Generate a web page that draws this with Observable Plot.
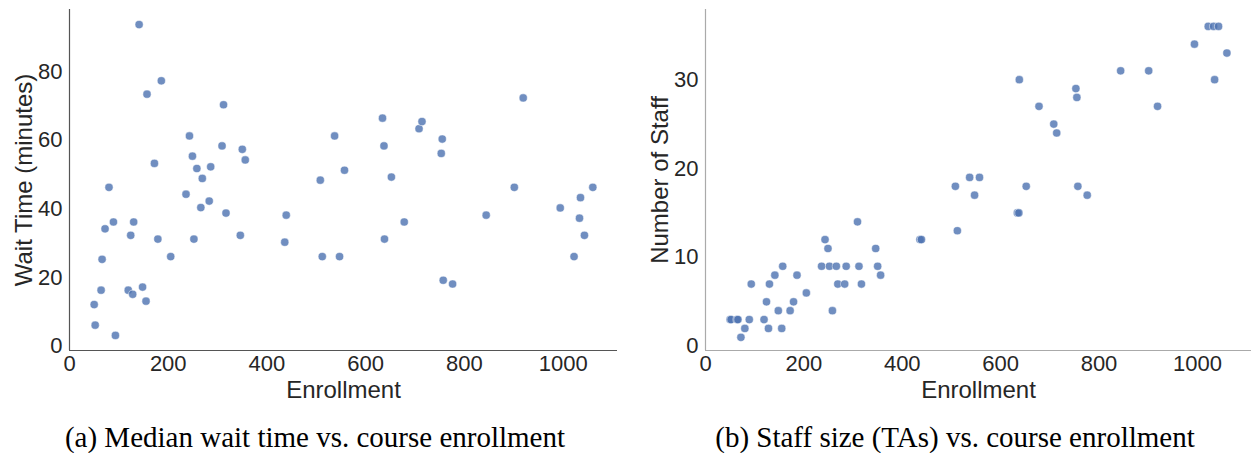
<!DOCTYPE html>
<html>
<head>
<meta charset="utf-8">
<script src="https://cdn.jsdelivr.net/npm/d3@7"></script>
<script src="https://cdn.jsdelivr.net/npm/@observablehq/plot@0.6"></script>
<style>
  html, body { margin: 0; padding: 0; background: #fff; }
  #wrap { position: relative; width: 1252px; height: 453px; overflow: hidden; }
  .panel { position: absolute; top: 0; width: 626px; height: 412px; }
  .cap { position: absolute; top: 421px; font-family: "Liberation Serif", "Times New Roman", serif;
         font-size: 29px; line-height: 32px; color: #000; text-align: center; white-space: nowrap; }
</style>
</head>
<body>
<div id="wrap">
  <div class="panel" id="left" style="left:0"></div>
  <div class="panel" id="right" style="left:626px"></div>
  <div class="cap" id="capA" style="left:0;width:630px">(a) Median wait time vs. course enrollment</div>
  <div class="cap" id="capB" style="left:658px;width:594px">(b) Staff size (TAs) vs. course enrollment</div>
</div>
<script>
const enrollment = [50,52,64,66,72,80,89,93,119,124,128,130,141,148,155,157,172,179,186,205,
  236,243,249,252,258,266,269,283,286,309,312,317,346,350,356,436,439,
  508,512,537,547,557,634,637,638,652,678,708,714,753,755,757,776,844,901,919,994,1022,1033,1035,1043,1060];
const waitTime = [12.1,6.1,16.3,25.3,34.2,46.3,36.2,3.1,16.3,32.3,15.1,36.2,93.8,17.2,13.1,73.5,53.3,31.2,77.4,26.1,
  44.3,61.3,55.4,31.2,51.8,40.4,48.9,42.3,52.3,58.4,70.4,38.8,32.3,57.4,54.3,30.3,38.2,
  48.4,26.1,61.3,26.1,51.3,66.5,58.4,31.2,49.3,36.2,63.4,65.5,56.2,60.4,19.2,18.1,38.2,46.3,72.4,40.3,26.1,37.3,43.3,32.3,46.3];
const staff = [3,3,3,3,1,2,3,7,3,5,2,7,8,4,2,9,4,5,8,6,
  9,12,11,9,4,9,7,7,9,14,9,7,11,9,8,12,12,
  18,13,19,17,19,15,15,30,18,27,25,24,29,28,18,17,31,31,27,34,36,36,30,36,33];
const xTicks = [0,200,400,600,800,1000];
const waitTicks = [0,20,40,60,80];
const staffTicks = [0,10,20,30];
const xDomain = [0, 1110];
const waitDomain = [-1.3, 98.2];
const staffDomain = [-0.48, 37.9];

const rowsWait = enrollment.map((e,i) => ({enrollment: e, value: waitTime[i]}));
const rowsStaff = enrollment.map((e,i) => ({enrollment: e, value: staff[i]}));

function panel(rows, yDomain, yTicks, yLabel, marginLeft, marginRight, spine) {
  return Plot.plot({
    width: 626, height: 412,
    marginLeft, marginRight, marginTop: 9, marginBottom: 62,
    style: {fontFamily: "'Liberation Sans', Arial, sans-serif", fontSize: "22px", color: "#262626", background: "#fff", overflow: "visible"},
    x: {domain: xDomain},
    y: {domain: yDomain},
    marks: [
      Plot.ruleX([xDomain[0]], {stroke: spine, strokeWidth: 1.2}),
      Plot.ruleY([yDomain[0]], {stroke: spine, strokeWidth: 1.2}),
      Plot.axisX({ticks: xTicks, tickFormat: d => String(d), tickSize: 0, tickPadding: 5, label: null, fontSize: 22, fill: "#262626"}),
      Plot.axisY({ticks: yTicks, tickFormat: d => String(d), tickSize: 0, tickPadding: 7, label: null, fontSize: 22, fill: "#262626"}),
      Plot.dot(rows, {x: "enrollment", y: "value", r: 4.1, fill: "#4C72B0", fillOpacity: 0.8, stroke: "#fff", strokeWidth: 0.5}),
      Plot.text(["Enrollment"], {frameAnchor: "bottom", dy: 40, fontSize: 24, fill: "#262626", lineAnchor: "middle"}),
      Plot.text([yLabel], {frameAnchor: "left", dx: -45, rotate: -90, fontSize: 24, fill: "#262626", lineAnchor: "middle", textAnchor: "middle"})
    ]
  });
}

document.getElementById("left").append(panel(rowsWait, waitDomain, waitTicks, "Wait Time (minutes)", 69, 9, "#555"));
document.getElementById("right").append(panel(rowsStaff, staffDomain, staffTicks, "Number of Staff", 79, 1, "#aaa"));
</script>
</body>
</html>
